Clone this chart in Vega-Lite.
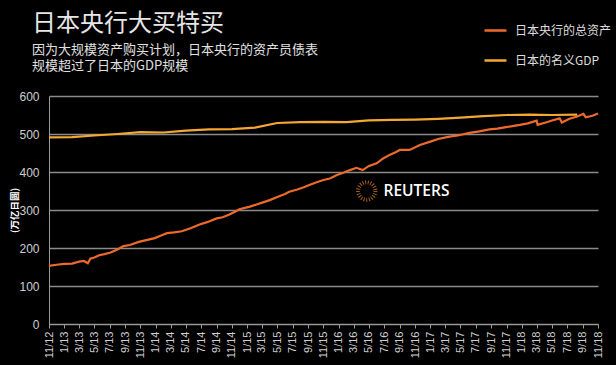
{
  "$schema": "https://vega.github.io/schema/vega-lite/v6.json",
  "width": 549,
  "height": 228,
  "autosize": {"type": "none"},
  "padding": {"left": 49, "top": 96, "right": 18, "bottom": 41},
  "background": "#000000",
  "title": {
    "text": "日本央行大买特买",
    "subtitle": ["因为大规模资产购买计划，日本央行的资产员债表", "规模超过了日本的GDP规模"],
    "anchor": "start",
    "frame": "group",
    "dx": -17,
    "offset": -55,
    "font": "Noto Sans CJK SC",
    "fontSize": 24,
    "fontWeight": "normal",
    "color": "#e6e6e6",
    "subtitleFont": "Noto Sans CJK SC",
    "subtitleFontSize": 13,
    "subtitleColor": "#e0e0e0",
    "subtitleLineHeight": 16,
    "subtitlePadding": 8
  },
  "config": {
    "view": {"stroke": null},
    "font": "Noto Sans CJK SC",
    "axis": {
      "gridColor": "#8a8a8a",
      "gridWidth": 1.3,
      "domainColor": "#9a9a9a",
      "tickColor": "#9a9a9a",
      "labelColor": "#cfcfcf",
      "titleColor": "#ffffff"
    }
  },
  "layer": [
    {
      "data": {
        "values": [
          {"date": "2012-11-01", "series": "日本央行的总资产", "value": 153},
          {"date": "2012-12-01", "series": "日本央行的总资产", "value": 156},
          {"date": "2013-01-01", "series": "日本央行的总资产", "value": 158},
          {"date": "2013-02-01", "series": "日本央行的总资产", "value": 159},
          {"date": "2013-03-01", "series": "日本央行的总资产", "value": 164},
          {"date": "2013-03-20", "series": "日本央行的总资产", "value": 166},
          {"date": "2013-04-05", "series": "日本央行的总资产", "value": 160},
          {"date": "2013-04-15", "series": "日本央行的总资产", "value": 172},
          {"date": "2013-05-01", "series": "日本央行的总资产", "value": 175},
          {"date": "2013-05-20", "series": "日本央行的总资产", "value": 181},
          {"date": "2013-06-10", "series": "日本央行的总资产", "value": 184},
          {"date": "2013-07-05", "series": "日本央行的总资产", "value": 188},
          {"date": "2013-08-01", "series": "日本央行的总资产", "value": 196},
          {"date": "2013-08-25", "series": "日本央行的总资产", "value": 205},
          {"date": "2013-09-20", "series": "日本央行的总资产", "value": 208},
          {"date": "2013-10-25", "series": "日本央行的总资产", "value": 216},
          {"date": "2013-11-20", "series": "日本央行的总资产", "value": 220},
          {"date": "2013-12-28", "series": "日本央行的总资产", "value": 226},
          {"date": "2014-01-20", "series": "日本央行的总资产", "value": 232},
          {"date": "2014-02-15", "series": "日本央行的总资产", "value": 239},
          {"date": "2014-03-15", "series": "日本央行的总资产", "value": 241},
          {"date": "2014-04-15", "series": "日本央行的总资产", "value": 244},
          {"date": "2014-05-20", "series": "日本央行的总资产", "value": 252},
          {"date": "2014-06-25", "series": "日本央行的总资产", "value": 262},
          {"date": "2014-07-25", "series": "日本央行的总资产", "value": 268},
          {"date": "2014-09-01", "series": "日本央行的总资产", "value": 278},
          {"date": "2014-09-25", "series": "日本央行的总资产", "value": 281},
          {"date": "2014-10-22", "series": "日本央行的总资产", "value": 288},
          {"date": "2014-11-15", "series": "日本央行的总资产", "value": 296},
          {"date": "2014-12-01", "series": "日本央行的总资产", "value": 302},
          {"date": "2015-01-12", "series": "日本央行的总资产", "value": 309},
          {"date": "2015-02-10", "series": "日本央行的总资产", "value": 315},
          {"date": "2015-03-05", "series": "日本央行的总资产", "value": 320},
          {"date": "2015-04-01", "series": "日本央行的总资产", "value": 326},
          {"date": "2015-05-01", "series": "日本央行的总资产", "value": 334},
          {"date": "2015-06-01", "series": "日本央行的总资产", "value": 342},
          {"date": "2015-06-18", "series": "日本央行的总资产", "value": 348},
          {"date": "2015-07-20", "series": "日本央行的总资产", "value": 354},
          {"date": "2015-08-15", "series": "日本央行的总资产", "value": 360},
          {"date": "2015-09-06", "series": "日本央行的总资产", "value": 366},
          {"date": "2015-10-05", "series": "日本央行的总资产", "value": 373},
          {"date": "2015-11-01", "series": "日本央行的总资产", "value": 379},
          {"date": "2015-11-27", "series": "日本央行的总资产", "value": 383},
          {"date": "2015-12-25", "series": "日本央行的总资产", "value": 392},
          {"date": "2016-01-20", "series": "日本央行的总资产", "value": 398},
          {"date": "2016-02-15", "series": "日本央行的总资产", "value": 405},
          {"date": "2016-03-12", "series": "日本央行的总资产", "value": 411},
          {"date": "2016-04-06", "series": "日本央行的总资产", "value": 405},
          {"date": "2016-05-01", "series": "日本央行的总资产", "value": 416},
          {"date": "2016-06-01", "series": "日本央行的总资产", "value": 423},
          {"date": "2016-06-25", "series": "日本央行的总资产", "value": 435},
          {"date": "2016-07-22", "series": "日本央行的总资产", "value": 445},
          {"date": "2016-08-15", "series": "日本央行的总资产", "value": 452},
          {"date": "2016-09-01", "series": "日本央行的总资产", "value": 458},
          {"date": "2016-10-10", "series": "日本央行的总资产", "value": 458},
          {"date": "2016-11-20", "series": "日本央行的总资产", "value": 471},
          {"date": "2017-01-01", "series": "日本央行的总资产", "value": 480},
          {"date": "2017-02-01", "series": "日本央行的总资产", "value": 487},
          {"date": "2017-03-18", "series": "日本央行的总资产", "value": 493},
          {"date": "2017-04-20", "series": "日本央行的总资产", "value": 496},
          {"date": "2017-06-06", "series": "日本央行的总资产", "value": 503},
          {"date": "2017-07-15", "series": "日本央行的总资产", "value": 507},
          {"date": "2017-08-25", "series": "日本央行的总资产", "value": 512},
          {"date": "2017-09-25", "series": "日本央行的总资产", "value": 514},
          {"date": "2017-10-30", "series": "日本央行的总资产", "value": 518},
          {"date": "2017-12-24", "series": "日本央行的总资产", "value": 524},
          {"date": "2018-01-25", "series": "日本央行的总资产", "value": 528},
          {"date": "2018-03-01", "series": "日本央行的总资产", "value": 535},
          {"date": "2018-03-05", "series": "日本央行的总资产", "value": 524},
          {"date": "2018-04-10", "series": "日本央行的总资产", "value": 531},
          {"date": "2018-05-05", "series": "日本央行的总资产", "value": 536},
          {"date": "2018-06-01", "series": "日本央行的总资产", "value": 541},
          {"date": "2018-06-10", "series": "日本央行的总资产", "value": 530},
          {"date": "2018-07-10", "series": "日本央行的总资产", "value": 540},
          {"date": "2018-08-10", "series": "日本央行的总资产", "value": 546},
          {"date": "2018-09-04", "series": "日本央行的总资产", "value": 553},
          {"date": "2018-09-13", "series": "日本央行的总资产", "value": 544},
          {"date": "2018-10-10", "series": "日本央行的总资产", "value": 548},
          {"date": "2018-11-01", "series": "日本央行的总资产", "value": 554},
          {"date": "2012-11-01", "series": "日本的名义GDP", "value": 491},
          {"date": "2013-02-01", "series": "日本的名义GDP", "value": 492},
          {"date": "2013-05-01", "series": "日本的名义GDP", "value": 496},
          {"date": "2013-08-01", "series": "日本的名义GDP", "value": 500},
          {"date": "2013-11-01", "series": "日本的名义GDP", "value": 505},
          {"date": "2014-02-01", "series": "日本的名义GDP", "value": 504},
          {"date": "2014-05-01", "series": "日本的名义GDP", "value": 509},
          {"date": "2014-08-01", "series": "日本的名义GDP", "value": 512},
          {"date": "2014-11-01", "series": "日本的名义GDP", "value": 513},
          {"date": "2015-02-01", "series": "日本的名义GDP", "value": 517},
          {"date": "2015-05-01", "series": "日本的名义GDP", "value": 529},
          {"date": "2015-08-01", "series": "日本的名义GDP", "value": 531},
          {"date": "2015-11-01", "series": "日本的名义GDP", "value": 532},
          {"date": "2016-02-01", "series": "日本的名义GDP", "value": 531},
          {"date": "2016-05-01", "series": "日本的名义GDP", "value": 536},
          {"date": "2016-08-01", "series": "日本的名义GDP", "value": 537},
          {"date": "2016-11-01", "series": "日本的名义GDP", "value": 538},
          {"date": "2017-02-01", "series": "日本的名义GDP", "value": 540},
          {"date": "2017-05-01", "series": "日本的名义GDP", "value": 543},
          {"date": "2017-08-01", "series": "日本的名义GDP", "value": 547},
          {"date": "2017-11-01", "series": "日本的名义GDP", "value": 550},
          {"date": "2018-02-01", "series": "日本的名义GDP", "value": 551},
          {"date": "2018-05-01", "series": "日本的名义GDP", "value": 550},
          {"date": "2018-08-10", "series": "日本的名义GDP", "value": 551}
        ]
      },
      "mark": {"type": "line", "strokeWidth": 2.2, "interpolate": "linear"},
      "encoding": {
        "x": {
          "field": "date",
          "type": "temporal",
          "scale": {"type": "utc", "domain": ["2012-11-01", "2018-11-01"], "nice": false},
          "axis": {
            "title": null,
            "format": "%-m/%y",
            "tickCount": {"interval": "month", "step": 2},
            "labelAngle": -90,
            "labelFontSize": 11,
            "labelFont": "Liberation Sans",
            "tickSize": 4,
            "labelPadding": 3,
            "grid": false,
            "labelOverlap": false,
            "labelFlush": false
          }
        },
        "y": {
          "field": "value",
          "type": "quantitative",
          "scale": {"domain": [0, 600], "nice": false},
          "axis": {
            "title": "(万亿日圆)",
            "titleFontSize": 9.5,
            "titleFontWeight": "bold",
            "titleX": -35,
            "titleY": 114,
            "titleAlign": "center",
            "titleBaseline": "middle",
            "values": [0, 100, 200, 300, 400, 500, 600],
            "tickCount": 10,
            "labelOverlap": false,
            "labelFontSize": 12,
            "labelFont": "Liberation Sans",
            "ticks": false,
            "labelPadding": 10
          }
        },
        "color": {
          "field": "series",
          "type": "nominal",
          "scale": {"domain": ["日本央行的总资产", "日本的名义GDP"], "range": ["#ee6a2c", "#f5a733"]},
          "legend": {
            "title": null,
            "orient": "none",
            "legendX": 434,
            "legendY": -78,
            "symbolType": "stroke",
            "symbolSize": 484,
            "symbolStrokeWidth": 2.5,
            "labelFontSize": 12,
            "labelColor": "#dedede",
            "labelOffset": 7,
            "rowPadding": 11
          }
        }
      }
    },
    {
      "data": {"values": [{}]},
      "mark": {"type": "point", "shape": "circle", "filled": false, "stroke": "#e8822a", "strokeWidth": 4, "strokeDash": [1, 1.6], "size": 300},
      "encoding": {
        "x": {"datum": {"year": 2016, "month": 4, "date": 22, "utc": true}, "type": "temporal"},
        "y": {
          "datum": 350,
          "type": "quantitative",
          "axis": {
            "title": "(万亿日圆)",
            "values": [0, 100, 200, 300, 400, 500, 600],
            "tickCount": 10,
            "labelOverlap": false
          }
        }
      }
    },
    {
      "data": {"values": [{}]},
      "mark": {"type": "text", "text": "REUTERS", "align": "left", "baseline": "middle", "fontSize": 15.5, "fontWeight": 600, "font": "Open Sans", "color": "#ffffff"},
      "encoding": {
        "x": {"datum": {"year": 2016, "month": 6, "date": 28, "utc": true}, "type": "temporal"},
        "y": {
          "datum": 350,
          "type": "quantitative",
          "axis": {
            "title": "(万亿日圆)",
            "values": [0, 100, 200, 300, 400, 500, 600],
            "tickCount": 10,
            "labelOverlap": false
          }
        }
      }
    }
  ]
}
